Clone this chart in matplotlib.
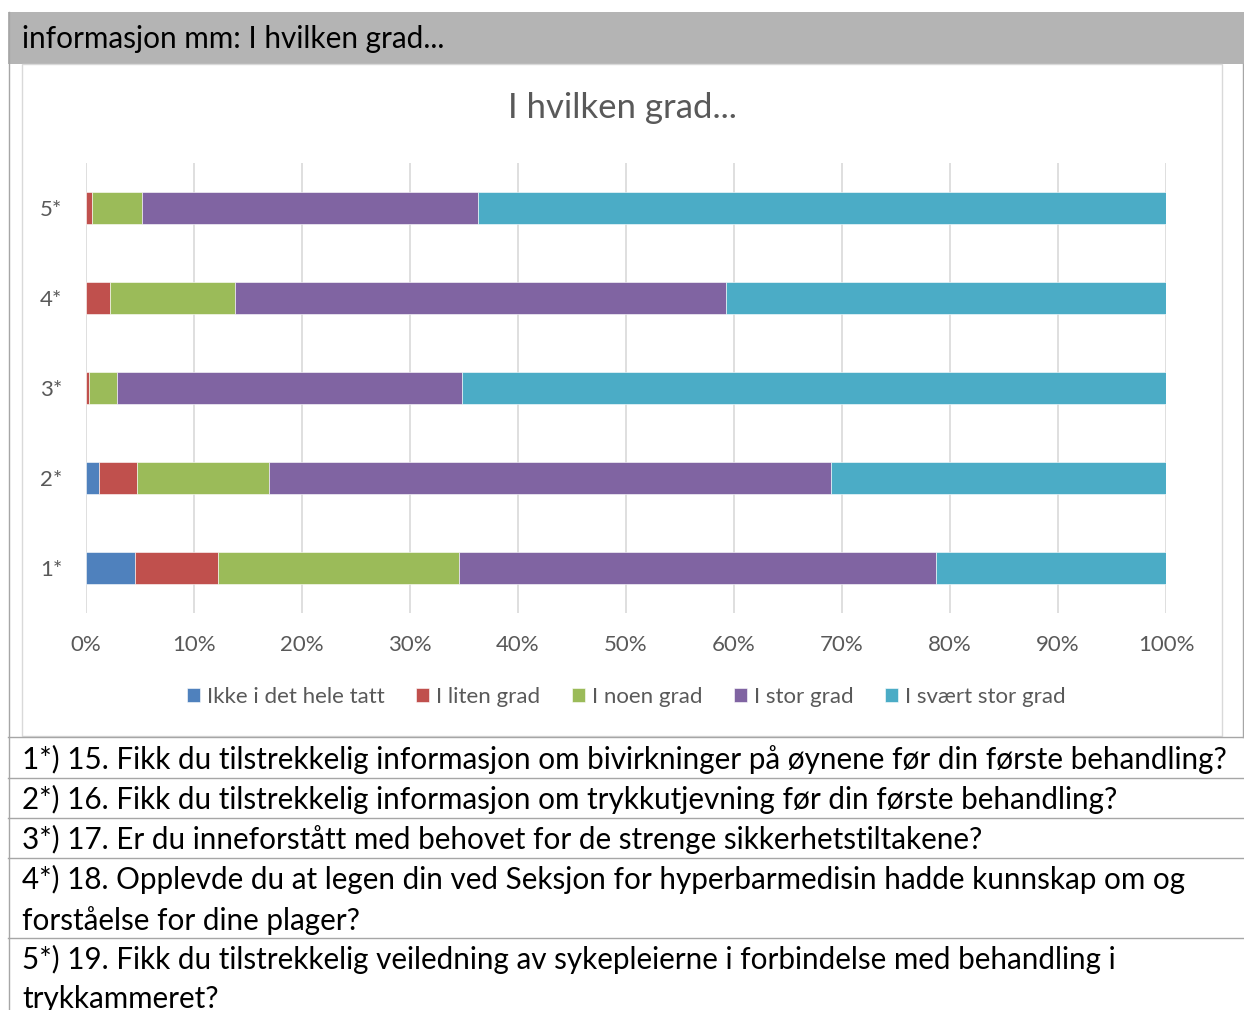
import matplotlib.pyplot as plt
import numpy as np
from matplotlib.patches import Rectangle
from matplotlib.lines import Line2D

plt.rcParams['font.family'] = ['Lato', 'DejaVu Sans']

# categories, bottom to top
categories = ['1*', '2*', '3*', '4*', '5*']
series_names = ['Ikke i det hele tatt', 'I liten grad', 'I noen grad', 'I stor grad', 'I svært stor grad']
colors = ['#4F81BD', '#C0504D', '#9BBB59', '#8064A2', '#4BACC6']

# percent shares
ikke = [4.5, 1.2, 0.0, 0.0, 0.0]
liten = [7.7, 3.5, 0.3, 2.2, 0.6]
noen = [22.3, 12.2, 2.6, 11.6, 4.6]
stor = [44.2, 52.1, 31.9, 45.5, 31.1]
svaert = [21.3, 31.0, 65.2, 40.7, 63.7]
values = [ikke, liten, noen, stor, svaert]

questions = [
    '1*) 15. Fikk du tilstrekkelig informasjon om bivirkninger på øynene før din første behandling?',
    '2*) 16. Fikk du tilstrekkelig informasjon om trykkutjevning før din første behandling?',
    '3*) 17. Er du inneforstått med behovet for de strenge sikkerhetstiltakene?',
    '4*) 18. Opplevde du at legen din ved Seksjon for hyperbarmedisin hadde kunnskap om og\nforståelse for dine plager?',
    '5*) 19. Fikk du tilstrekkelig veiledning av sykepleierne i forbindelse med behandling i\ntrykkammeret?',
]

W, H = 1244, 1010
fig = plt.figure(figsize=(W / 100, H / 100), dpi=100)

def fx(x):
    return x / W

def fy(y):
    return 1 - y / H

# header bar
fig.patches.append(Rectangle((fx(8), fy(64)), fx(1236), 52 / H, transform=fig.transFigure,
                             facecolor='#b4b4b4', edgecolor='none', zorder=-2))
fig.text(fx(22), fy(39), 'informasjon mm: I hvilken grad...', fontsize=21.4, color='black', va='center')

# chart panel frame
fig.patches.append(Rectangle((fx(22), fy(736)), fx(1200), 672 / H, transform=fig.transFigure,
                             facecolor='white', edgecolor='#d9d9d9', lw=1, zorder=-2))

# table lines
for yy in [737, 778, 818, 858, 938]:
    fig.lines.append(Line2D([fx(8), 1], [fy(yy), fy(yy)], transform=fig.transFigure, color='#a6a6a6', lw=1))
fig.lines.append(Line2D([fx(8.5), fx(8.5)], [fy(12), 0], transform=fig.transFigure, color='#a6a6a6', lw=1))
fig.lines.append(Line2D([fx(1243), fx(1243)], [fy(64), fy(737)], transform=fig.transFigure, color='#a6a6a6', lw=1))

row_y = [759, 799, 839, 900, 979]
for q, yy in zip(questions, row_y):
    fig.text(fx(22), fy(yy), q, fontsize=21.3, color='black', va='center', linespacing=1.5)

# chart
ax = fig.add_axes([fx(86), fy(613), fx(1080), 450 / H])
ax.set_zorder(2)
ypos = np.arange(1, len(categories) + 1)
left = np.zeros(len(categories))
for name, vals, c in zip(series_names, values, colors):
    ax.barh(ypos, vals, left=left, height=0.35, color=c, label=name,
            edgecolor='white', linewidth=0.4, zorder=3)
    left += np.array(vals)

ax.set_xlim(0, 100)
ax.set_ylim(0.5, 5.5)
ax.set_xticks(np.arange(0, 101, 10))
ax.set_xticklabels([f'{t}%' for t in range(0, 101, 10)])
ax.set_yticks(ypos)
ax.set_yticklabels(categories)
ax.grid(axis='x', color='#d9d9d9', lw=1.2, zorder=0)
for s in ax.spines.values():
    s.set_visible(False)
ax.tick_params(length=0, colors='#595959', labelsize=16)
ax.tick_params(axis='x', pad=16)
ax.tick_params(axis='y', pad=17)

# chart title, centred on the chart panel
fig.text(fx(622), fy(108), 'I hvilken grad...', fontsize=25, color='#595959', ha='center', va='center')

fig.legend(*ax.get_legend_handles_labels(), loc='center', bbox_to_anchor=(fx(626), fy(697)), ncol=5,
           frameon=False, fontsize=16, labelcolor='#595959', handlelength=0.6, handleheight=0.6,
           handletextpad=0.3, columnspacing=1.42)

fig.savefig('out.png', dpi=100)
